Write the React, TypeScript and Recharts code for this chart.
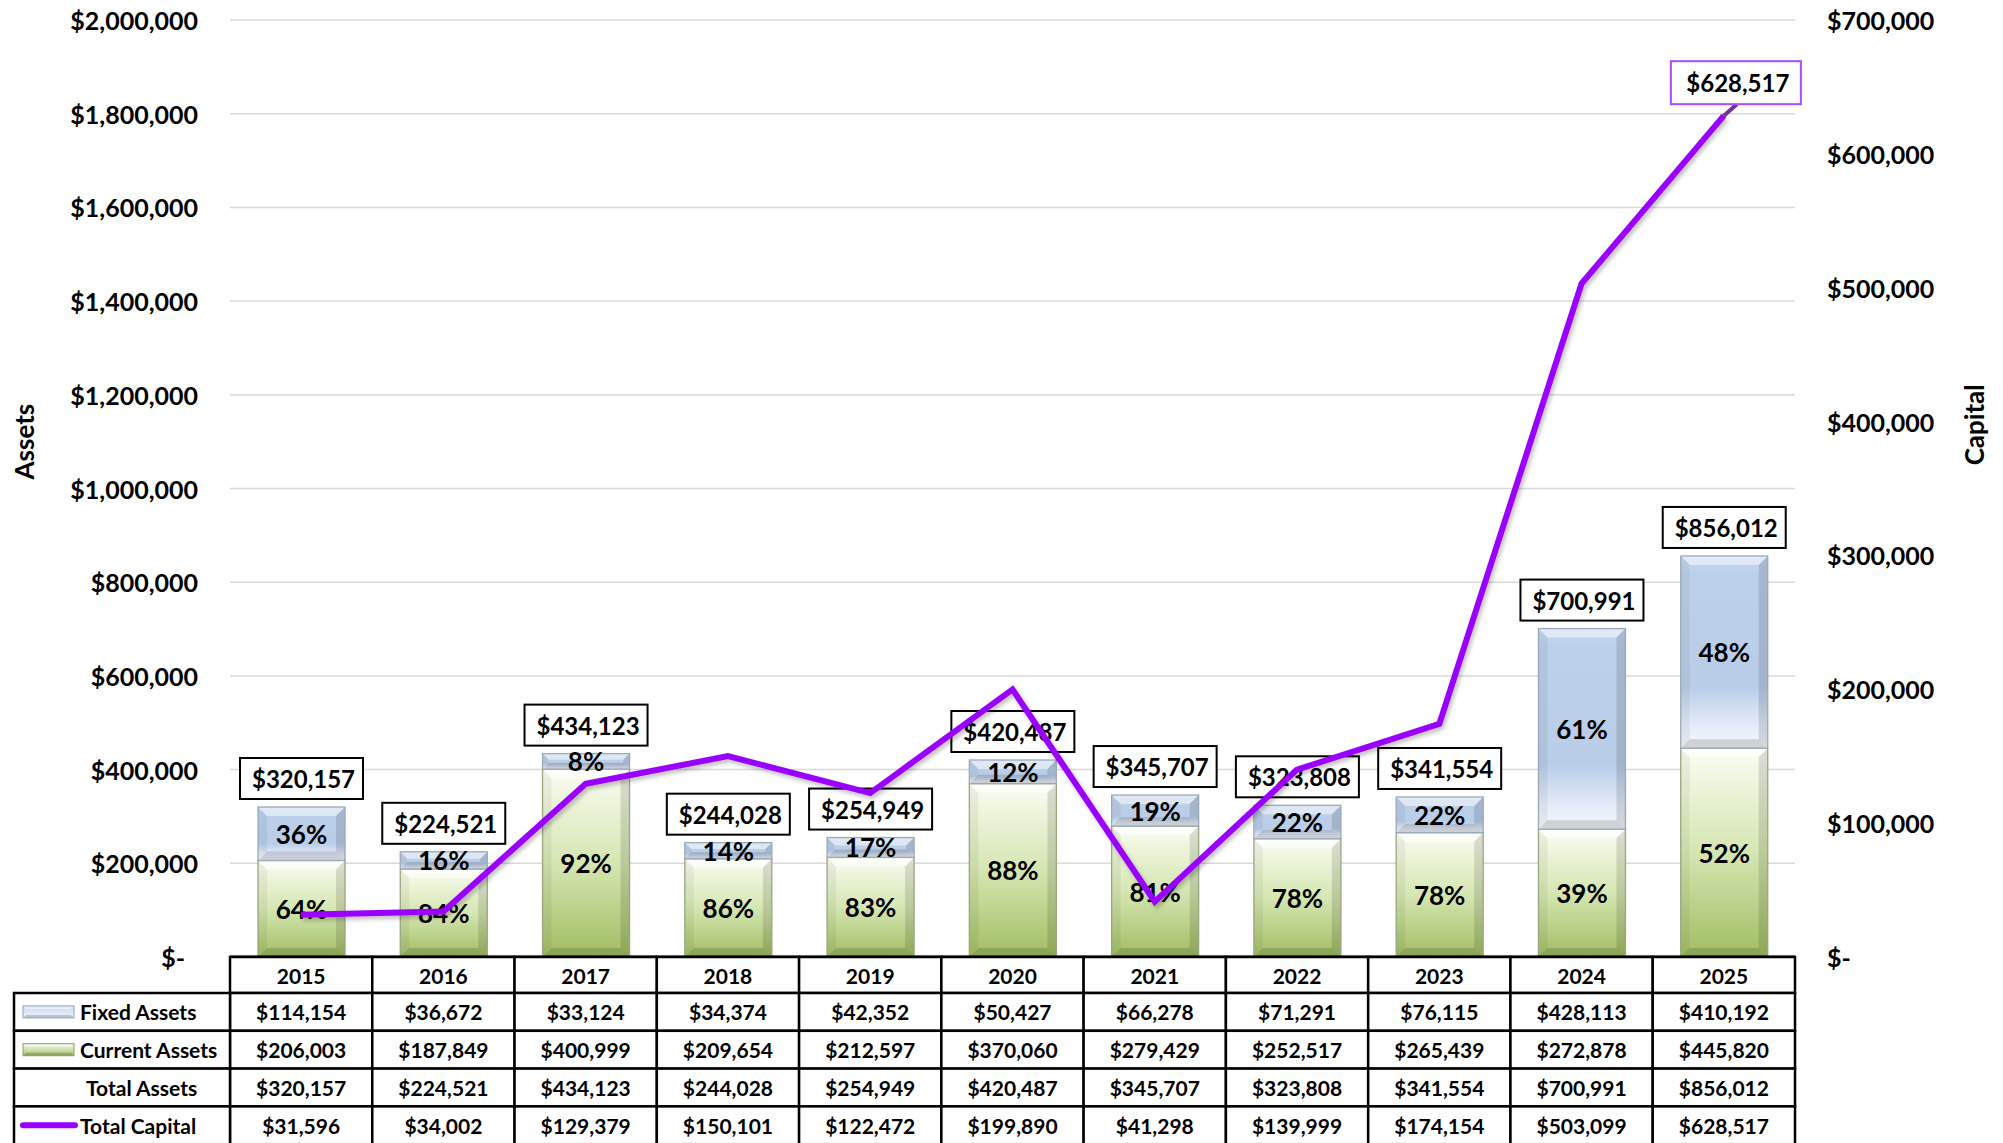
import React from 'react';
import { ComposedChart, Bar, Line, XAxis, YAxis, CartesianGrid, LabelList, Label } from 'recharts';

const years = ['2015', '2016', '2017', '2018', '2019', '2020', '2021', '2022', '2023', '2024', '2025'];
const fixedAssets = [114154, 36672, 33124, 34374, 42352, 50427, 66278, 71291, 76115, 428113, 410192];
const currentAssets = [206003, 187849, 400999, 209654, 212597, 370060, 279429, 252517, 265439, 272878, 445820];
const totalAssets = [320157, 224521, 434123, 244028, 254949, 420487, 345707, 323808, 341554, 700991, 856012];
const totalCapital = [31596, 34002, 129379, 150101, 122472, 199890, 41298, 139999, 174154, 503099, 628517];
const leftTicks = [0, 200000, 400000, 600000, 800000, 1000000, 1200000, 1400000, 1600000, 1800000, 2000000];
const rightTicks = [0, 100000, 200000, 300000, 400000, 500000, 600000, 700000];
const rowLabels = ['Fixed Assets', 'Current Assets', 'Total Assets', 'Total Capital'];

const data = years.map((year, i) => ({
  year,
  fixed: fixedAssets[i],
  current: currentAssets[i],
  total: totalAssets[i],
  capital: totalCapital[i],
  fixedPct: Math.round((fixedAssets[i] / totalAssets[i]) * 100) + '%',
  currentPct: Math.round((currentAssets[i] / totalAssets[i]) * 100) + '%',
}));

const W = 2003;
const H = 1143;
const LEFT_W = 230;
const RIGHT_W = 208;
const XAXIS_H = 186;
const TOP = 20;
const HEAD_H = 36;
const ROW_H = 37.8;
const FONT = 'Lato, "Open Sans", sans-serif';
const PURPLE = '#9900ff';

const fmt = (v: number) => (v === 0 ? '$-' : '$' + v.toLocaleString('en-US'));

const LeftTick = (props: any) => {
  const { x, y, payload } = props;
  const v = payload.value;
  return (
    <text x={v === 0 ? x - 13 : x} y={y} textAnchor="end" dominantBaseline="central" fontFamily={FONT} fontWeight={700} fontSize={25} fill="#000">
      {fmt(v)}
    </text>
  );
};

const RightTick = (props: any) => {
  const { x, y, payload } = props;
  return (
    <text x={x} y={y} textAnchor="start" dominantBaseline="central" fontFamily={FONT} fontWeight={700} fontSize={25} fill="#000">
      {fmt(payload.value)}
    </text>
  );
};

const Swatch = ({ x, y, w, h, grad, edge }: any) => {
  const b = Math.min(3, h / 3);
  return (
    <g>
      <rect x={x} y={y} width={w} height={h} fill={`url(#${grad})`} />
      <polygon points={`${x},${y} ${x + w},${y} ${x + w - b},${y + b} ${x + b},${y + b}`} fill="#fff" fillOpacity={0.5} />
      <polygon points={`${x},${y + h} ${x + b},${y + h - b} ${x + w - b},${y + h - b} ${x + w},${y + h}`} fill="#000" fillOpacity={0.18} />
      <rect x={x} y={y} width={w} height={h} fill="none" stroke={edge} strokeWidth={1} />
    </g>
  );
};

const rowTop = (r: number) => (r === 0 ? 0 : HEAD_H + (r - 1) * ROW_H);
const rowH = (r: number) => (r === 0 ? HEAD_H : ROW_H);

const TableTick = (props: any) => {
  const { x, y, payload } = props;
  const i = props.index ?? payload.index;
  const bandW = (W - LEFT_W - RIGHT_W) / years.length;
  const half = payload.offset || bandW / 2;
  const x0 = x - half;
  const cw = half * 2;
  const cells = [years[i], fmt(fixedAssets[i]), fmt(currentAssets[i]), fmt(totalAssets[i]), fmt(totalCapital[i])];
  const legX = 14;
  return (
    <g>
      {cells.map((t, r) => (
        <g key={r}>
          <rect x={x0} y={y + rowTop(r)} width={cw} height={rowH(r)} fill="#fff" stroke="#000" strokeWidth={2.5} />
          <text x={x} y={y + rowTop(r) + rowH(r) / 2} textAnchor="middle" dominantBaseline="central" fontFamily={FONT} fontWeight={700} fontSize={21} fill="#000">
            {t}
          </text>
        </g>
      ))}
      {i === 0 && (
        <g>
          {rowLabels.map((t, r) => {
            const ry = y + rowTop(r + 1);
            const cy = ry + ROW_H / 2;
            return (
              <g key={t}>
                <rect x={legX} y={ry} width={x0 - legX} height={ROW_H} fill="#fff" stroke="#000" strokeWidth={2.5} />
                {r === 0 && <Swatch x={23} y={cy - 6} w={51} h={12} grad="blueSw" edge="#8ea4c0" />}
                {r === 1 && <Swatch x={23} y={cy - 6} w={51} h={12} grad="greenSw" edge="#8aa05a" />}
                {r === 3 && <line x1={23} y1={cy} x2={75} y2={cy} stroke={PURPLE} strokeWidth={6} strokeLinecap="round" />}
                <text x={r === 2 ? 86 : 80} y={cy} textAnchor="start" dominantBaseline="central" fontFamily={FONT} fontWeight={700} fontSize={21} fill="#000">
                  {t}
                </text>
              </g>
            );
          })}
        </g>
      )}
    </g>
  );
};

const Bevel = ({ x, y, w, h, grad, edge }: any) => {
  const b = Math.min(9, h / 2.5, w / 4);
  return (
    <g>
      <rect x={x} y={y} width={w} height={h} fill={`url(#${grad})`} />
      <polygon points={`${x},${y} ${x + w},${y} ${x + w - b},${y + b} ${x + b},${y + b}`} fill="#fff" fillOpacity={0.5} />
      <polygon points={`${x},${y} ${x + b},${y + b} ${x + b},${y + h - b} ${x},${y + h}`} fill="#000" fillOpacity={0.05} />
      <polygon points={`${x + w},${y} ${x + w - b},${y + b} ${x + w - b},${y + h - b} ${x + w},${y + h}`} fill="#000" fillOpacity={0.12} />
      <polygon points={`${x},${y + h} ${x + b},${y + h - b} ${x + w - b},${y + h - b} ${x + w},${y + h}`} fill="#000" fillOpacity={0.14} />
      <rect x={x} y={y} width={w} height={h} fill="none" stroke={edge} strokeWidth={1.3} />
    </g>
  );
};

const PctText = ({ x, y, value }: any) => (
  <text x={x} y={y} textAnchor="middle" dominantBaseline="central" fontFamily={FONT} fontWeight={700} fontSize={26} fill="#000">
    {value}
  </text>
);

const GreenBar = (props: any) => {
  const x = Number(props.x), y = Number(props.y), w = Number(props.width), h = Number(props.height);
  if (!h || h <= 0) return <g />;
  const p = props.payload || props;
  return (
    <g>
      <Bevel x={x} y={y} w={w} h={h} grad="greenGrad" edge="#98a77e" />
      <PctText x={x + w / 2} y={y + h / 2} value={p.currentPct} />
    </g>
  );
};

const BlueBar = (props: any) => {
  const x = Number(props.x), y = Number(props.y), w = Number(props.width), h = Number(props.height);
  if (!h || h <= 0) return <g />;
  const p = props.payload || props;
  const cx = x + w / 2;
  const cy = y - 28.5;
  const bw = 123;
  const bh = 41;
  return (
    <g>
      <Bevel x={x} y={y} w={w} h={h} grad="blueGrad" edge="#9aa9ba" />
      <PctText x={cx} y={y + h / 2} value={p.fixedPct} />
      <rect x={cx - bw / 2} y={cy - bh / 2} width={bw} height={bh} fill="#fff" stroke="#000" strokeWidth={2} />
      <text x={cx + 2} y={cy} textAnchor="middle" dominantBaseline="central" fontFamily={FONT} fontWeight={700} fontSize={24} fill="#000">
        {fmt(Number(p.total))}
      </text>
    </g>
  );
};

const getBox = (props: any) => {
  const vb = props.viewBox || {};
  const x = props.x ?? vb.x;
  const y = props.y ?? vb.y;
  return { x: Number(x), y: Number(y) };
};

const CapitalLabel = (props: any) => {
  const idx = props.index;
  if (idx !== data.length - 1) return <g />;
  const { x, y } = getBox(props);
  const cx = x + 12;
  const cy = y - 33;
  const bw = 130;
  const bh = 43;
  return (
    <g>
      <line x1={x} y1={y} x2={cx + 1} y2={cy + bh / 2} stroke="#7030a0" strokeWidth={4} />
      <rect x={cx - bw / 2} y={cy - bh / 2} width={bw} height={bh} fill="#fff" stroke="#a64dff" strokeWidth={2} />
      <text x={cx + 2} y={cy} textAnchor="middle" dominantBaseline="central" fontFamily={FONT} fontWeight={700} fontSize={24} fill="#000">
        {fmt(Number(props.value))}
      </text>
    </g>
  );
};

const AssetsTitle = (props: any) => {
  const vb = props.viewBox || { x: 0, y: TOP, width: LEFT_W, height: H - TOP - XAXIS_H };
  const tx = vb.x + 24;
  const ty = vb.y + vb.height * 0.45;
  return (
    <text x={tx} y={ty} transform={`rotate(-90 ${tx} ${ty})`} textAnchor="middle" dominantBaseline="central" fontFamily={FONT} fontWeight={700} fontSize={26} fill="#000">
      Assets
    </text>
  );
};

const CapitalTitle = (props: any) => {
  const vb = props.viewBox || { x: W - RIGHT_W, y: TOP, width: RIGHT_W, height: H - TOP - XAXIS_H };
  const tx = vb.x + 179;
  const ty = vb.y + vb.height * 0.432;
  return (
    <text x={tx} y={ty} transform={`rotate(-90 ${tx} ${ty})`} textAnchor="middle" dominantBaseline="central" fontFamily={FONT} fontWeight={700} fontSize={26} fill="#000">
      Capital
    </text>
  );
};

export default function App() {
  return (
    <div style={{ position: 'absolute', left: 0, top: 0, width: W, height: H, background: '#fff', overflow: 'hidden' }}>
      <ComposedChart width={W} height={H} data={data} margin={{ top: TOP, right: 0, bottom: 0, left: 0 }}>
        <defs>
          <linearGradient id="blueGrad" x1="0" y1="0" x2="0" y2="1">
            <stop offset="0%" stopColor="#c3d6ee" />
            <stop offset="10%" stopColor="#bcd0ea" />
            <stop offset="68%" stopColor="#b9cde8" />
            <stop offset="88%" stopColor="#e3ecf8" />
            <stop offset="100%" stopColor="#f4f7fb" />
          </linearGradient>
          <linearGradient id="greenGrad" x1="0" y1="0" x2="0" y2="1">
            <stop offset="0%" stopColor="#fbfdf5" />
            <stop offset="12%" stopColor="#f1f7e2" />
            <stop offset="50%" stopColor="#d5e6b2" />
            <stop offset="100%" stopColor="#a0be62" />
          </linearGradient>
          <linearGradient id="blueSw" x1="0" y1="0" x2="0" y2="1">
            <stop offset="0%" stopColor="#c9daf0" />
            <stop offset="100%" stopColor="#eef3fa" />
          </linearGradient>
          <linearGradient id="greenSw" x1="0" y1="0" x2="0" y2="1">
            <stop offset="0%" stopColor="#f4f9e8" />
            <stop offset="100%" stopColor="#a8c46e" />
          </linearGradient>
          <filter id="lineShadow" x="-5%" y="-5%" width="110%" height="110%">
            <feDropShadow dx="2" dy="3" stdDeviation="2" floodColor="#000" floodOpacity="0.25" />
          </filter>
        </defs>
        <CartesianGrid yAxisId="left" vertical={false} stroke="#d9d9d9" strokeWidth={1.5} />
        <XAxis
          dataKey="year"
          height={XAXIS_H}
          interval={0}
          tickSize={0}
          tickMargin={0}
          axisLine={{ stroke: '#000', strokeWidth: 3 }}
          tickLine={false}
          tick={<TableTick />}
        />
        <YAxis
          yAxisId="left"
          orientation="left"
          width={LEFT_W}
          domain={[0, 2000000]}
          ticks={leftTicks}
          interval={0}
          tickSize={0}
          tickMargin={32}
          axisLine={false}
          tickLine={false}
          tick={<LeftTick />}
        >
          <Label content={<AssetsTitle />} />
        </YAxis>
        <YAxis
          yAxisId="right"
          orientation="right"
          width={RIGHT_W}
          domain={[0, 700000]}
          ticks={rightTicks}
          interval={0}
          tickSize={0}
          tickMargin={32}
          axisLine={false}
          tickLine={false}
          tick={<RightTick />}
        >
          <Label content={<CapitalTitle />} />
        </YAxis>
        <Bar yAxisId="left" dataKey="current" stackId="a" barSize={87} shape={<GreenBar />} isAnimationActive={false} />
        <Bar yAxisId="left" dataKey="fixed" stackId="a" barSize={87} shape={<BlueBar />} isAnimationActive={false} />
        <Line
          yAxisId="right"
          dataKey="capital"
          stroke={PURPLE}
          strokeWidth={6}
          dot={false}
          activeDot={false}
          filter="url(#lineShadow)"
          isAnimationActive={false}
        >
          <LabelList dataKey="capital" content={<CapitalLabel />} />
        </Line>
      </ComposedChart>
    </div>
  );
}
